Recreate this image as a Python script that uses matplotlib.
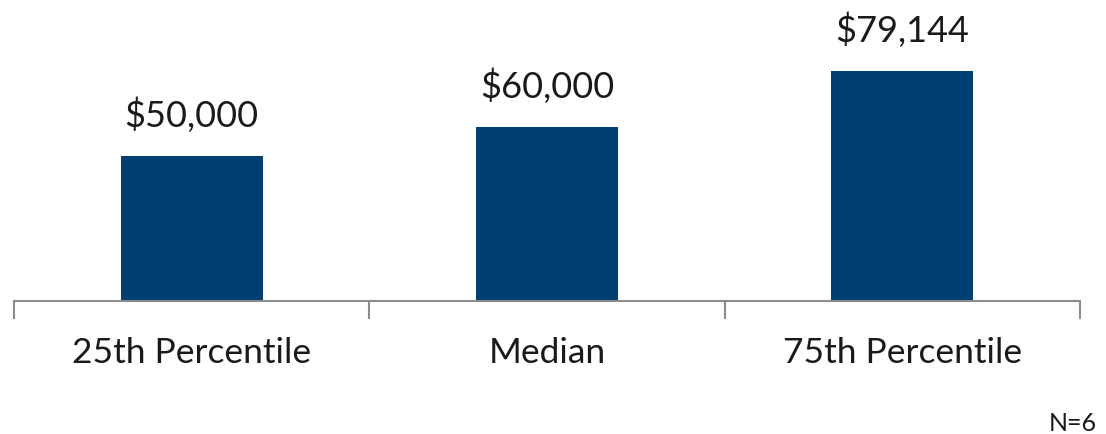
import matplotlib.pyplot as plt

plt.rcParams['font.family'] = ['Lato', 'DejaVu Sans']

categories = ['25th Percentile', 'Median', '75th Percentile']
values = [50000, 60000, 79144]
labels = ['$50,000', '$60,000', '$79,144']

fig = plt.figure(figsize=(11.06, 4.34), dpi=100)
ax = fig.add_axes([14 / 1106, 133 / 434, 1066 / 1106, 301 / 434])

x = range(len(categories))
ax.bar(x, values, width=0.4, color='#003F72')

for xi, v, lab in zip(x, values, labels):
    ax.text(xi, v + 10000, lab, ha='center', va='baseline', fontsize=26, color='#1a1a1a')

ax.set_xlim(-0.5, 2.5)
ax.set_ylim(0, 103800)

for s in ['top', 'right', 'left']:
    ax.spines[s].set_visible(False)
ax.spines['bottom'].set_color('#8c8c8c')
ax.spines['bottom'].set_linewidth(1.5)

ax.set_yticks([])
ax.set_xticks([-0.5, 0.5, 1.5, 2.5])
ax.set_xticklabels([])
ax.tick_params(axis='x', length=13, width=1.5, color='#8c8c8c')

for xi, c in zip(x, categories):
    ax.text(xi, -21400, c, ha='center', va='baseline', fontsize=25.5, color='#1a1a1a')

fig.text(1097 / 1106, 3 / 434, 'N=6', ha='right', va='baseline', fontsize=18, color='#1a1a1a')

fig.savefig('out.png', dpi=100)
